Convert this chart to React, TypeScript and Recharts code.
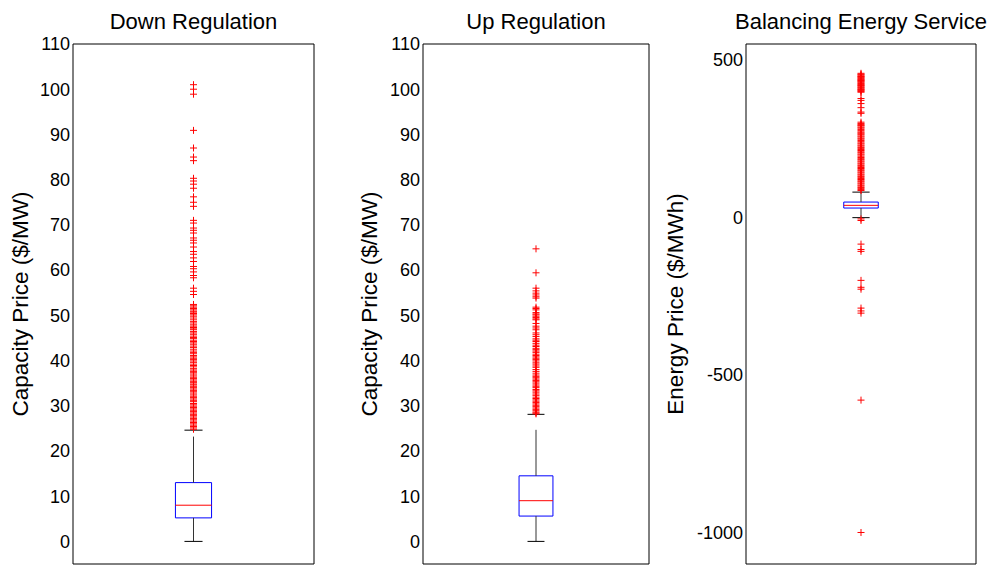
import { ComposedChart, XAxis, YAxis, Scatter, ReferenceArea, ReferenceLine, Label } from 'recharts';

// panel texts
const panelTitles = ['Down Regulation', 'Up Regulation', 'Balancing Energy Service'];
const yLabels = ['Capacity Price ($/MW)', 'Capacity Price ($/MW)', 'Energy Price ($/MWh)'];

// tick labels
const capacityTicks = [0, 10, 20, 30, 40, 50, 60, 70, 80, 90, 100, 110];
const energyTicks = [-1000, -500, 0, 500];

// box stats: lower whisker, q1, median, q3, upper whisker
const downBox = [0, 5.2, 8, 13, 24.6];
const upBox = [0, 5.6, 9, 14.5, 28.1];
const balancingBox = [-1, 29.5, 38, 48.5, 80];

// outliers
const downOutliers = [
  101, 100, 98.9, 90.9, 87, 85, 84.2, 80.3, 79.7, 79, 78.1, 76.2, 75, 74.1,
  71, 70.4, 69.3, 68.8, 68.2, 67.1, 66.6, 66, 65.1, 64.1, 63.5, 62.7, 61.9,
  60.8, 60.3, 59.6, 58.8, 58.3, 56, 55.3, 54.6, 52.4, 52.1, 51.8, 51.5, 51.2,
  50.9, 50.7, 50.4, 50.1, 49.8, 49.4, 49, 48.6, 48.3, 47.9, 47.6, 47.3, 47,
  46.8, 46.4, 46.1, 45.8, 45.4, 45.1, 44.9, 44.5, 44.2, 43.9, 43.6, 43.2,
  42.9, 42.5, 42.1, 41.8, 41.5, 41.1, 40.8, 40.5, 40.2, 39.9, 39.6, 39.2,
  38.9, 38.6, 38.2, 37.9, 37.6, 37.3, 37, 36.6, 36.3, 36, 35.7, 35.4, 35.1,
  34.8, 34.6, 34.3, 34, 33.7, 33.4, 33.1, 32.8, 32.4, 32.1, 31.8, 31.5, 31.2,
  30.9, 30.5, 30.2, 29.9, 29.6, 29.3, 29, 28.7, 28.4, 28.1, 27.8, 27.5, 27.2,
  26.9, 26.6, 26.3, 26, 25.7, 25.4, 25.1, 24.8,
];
const upOutliers = [
  64.7, 59.4, 56, 55.4, 54.9, 54.5, 54.1, 53.8, 51.8, 51.5, 51.2, 50.6, 50.3,
  50.1, 49.8, 49.5, 49.2, 49, 48.2, 47.6, 47.2, 46.8, 46.1, 45.7, 45.3, 44.8,
  44.5, 44.2, 43.8, 43.4, 43.1, 42.7, 42.4, 42.1, 41.8, 41.4, 41.1, 40.8,
  40.5, 40.2, 39.9, 39.5, 39.2, 38.8, 38.5, 38, 37.6, 37.2, 36.8, 36.5, 36.2,
  35.9, 35.6, 35.3, 35, 34.6, 34.3, 34, 33.6, 33.3, 33, 32.6, 32.3, 31.9,
  31.6, 31.3, 31, 30.7, 30.4, 30.1, 29.8, 29.5, 29.2, 28.9, 28.6, 28.4, 28.2,
];
const balancingOutliers = [
  457, 454, 452, 449, 447, 445, 443, 440, 438, 436, 434, 432, 430, 427, 425,
  422, 420, 418, 416, 413, 411, 408, 406, 404, 402, 399, 397,
  377, 371, 361, 348, 334, 330,
  302, 298, 295, 292, 290, 286, 283, 279, 275, 271, 268, 265, 262, 258, 255,
  251, 248, 244, 240, 236, 233, 229, 226, 222, 219, 215, 212, 208, 205, 201,
  198, 194, 190, 186, 183, 179, 176, 172, 169, 165, 162, 158, 155, 151, 148,
  144, 141, 137, 134, 130, 127, 123, 120, 116, 113, 109, 106, 102, 99, 95,
  92, 88, 85,
  -5, -10, -85, -102, -108, -200, -222, -228, -288, -297, -304, -580, -1000,
];

const FONT = '"Liberation Sans", Arial, sans-serif';
const X_CENTER = 1;
const BOX_HALF = 0.15;
const CAP_HALF = 0.075;

const renderPlus = (props: any) => {
  const { cx, cy } = props;
  if (cx == null || cy == null) return <g />;
  return (
    <path
      d={`M${cx - 3.5},${cy}H${cx + 3.5}M${cx},${cy - 3.5}V${cy + 3.5}`}
      stroke="#ff0000"
      strokeWidth={1}
      fill="none"
    />
  );
};

interface PanelProps {
  left: number;
  width: number;
  axisWidth: number;
  rightGap: number;
  labelOffset: number;
  title: string;
  yLabel: string;
  ticks: number[];
  domain: [number, number];
  stats: number[];
  outliers: number[];
}

const BoxPanel = ({ left, width, axisWidth, rightGap, labelOffset, title, yLabel, ticks, domain, stats, outliers }: PanelProps) => {
  const [lo, q1, med, q3, hi] = stats;
  const points = outliers.map(v => ({ x: X_CENTER, y: v }));
  const plotCenter = left + axisWidth + (width - axisWidth - rightGap) / 2;

  return (
    <>
      <div
        style={{
          position: 'absolute',
          left: plotCenter - 200,
          width: 400,
          top: 11,
          textAlign: 'center',
          fontSize: 22,
          lineHeight: '22px',
          color: '#000',
        }}
      >
        {title}
      </div>
      <div style={{ position: 'absolute', left, top: 0 }}>
        <ComposedChart
          width={width}
          height={567}
          data={points}
          margin={{ top: 44, right: rightGap, bottom: 3, left: 0 }}
          style={{ fontFamily: FONT }}
        >
          <XAxis xAxisId="x" type="number" dataKey="x" domain={[0, 2]} hide allowDataOverflow />
          <YAxis
            yAxisId="v"
            type="number"
            dataKey="y"
            domain={domain}
            ticks={ticks}
            interval={0}
            allowDataOverflow
            width={axisWidth}
            tickLine={false}
            tickSize={0}
            tickMargin={3}
            axisLine={false}
            tick={{ fill: '#000', fontSize: 18 }}
          >
            <Label
              value={yLabel}
              angle={-90}
              position="insideLeft"
              offset={labelOffset}
              style={{ textAnchor: 'middle', fontSize: 22.5, fill: '#000' }}
            />
          </YAxis>
          <YAxis
            yAxisId="inL"
            type="number"
            domain={domain}
            ticks={ticks}
            interval={0}
            allowDataOverflow
            mirror
            width={0}
            tick={false}
            tickSize={6}
            axisLine={false}
            tickLine={{ stroke: '#000' }}
          />
          <YAxis
            yAxisId="inR"
            orientation="right"
            type="number"
            domain={domain}
            ticks={ticks}
            interval={0}
            allowDataOverflow
            mirror
            width={0}
            tick={false}
            tickSize={6}
            axisLine={false}
            tickLine={{ stroke: '#000' }}
          />

          {/* plot frame */}
          <ReferenceArea
            xAxisId="x"
            yAxisId="v"
            x1={0}
            x2={2}
            y1={domain[0]}
            y2={domain[1]}
            fill="none"
            stroke="#000"
            strokeWidth={1}
            ifOverflow="visible"
          />

          {/* whiskers */}
          <ReferenceLine
            xAxisId="x"
            yAxisId="v"
            segment={[{ x: X_CENTER, y: q3 }, { x: X_CENTER, y: hi }]}
            stroke="#333"
            strokeDasharray="46 40"
            ifOverflow="visible"
          />
          <ReferenceLine
            xAxisId="x"
            yAxisId="v"
            segment={[{ x: X_CENTER, y: q1 }, { x: X_CENTER, y: lo }]}
            stroke="#333"
            ifOverflow="visible"
          />
          <ReferenceLine
            xAxisId="x"
            yAxisId="v"
            segment={[{ x: X_CENTER - CAP_HALF, y: hi }, { x: X_CENTER + CAP_HALF, y: hi }]}
            stroke="#000"
            ifOverflow="visible"
          />
          <ReferenceLine
            xAxisId="x"
            yAxisId="v"
            segment={[{ x: X_CENTER - CAP_HALF, y: lo }, { x: X_CENTER + CAP_HALF, y: lo }]}
            stroke="#000"
            ifOverflow="visible"
          />

          {/* box + median */}
          <ReferenceArea
            xAxisId="x"
            yAxisId="v"
            x1={X_CENTER - BOX_HALF}
            x2={X_CENTER + BOX_HALF}
            y1={q1}
            y2={q3}
            fill="none"
            stroke="#0000ff"
            strokeWidth={1}
            ifOverflow="visible"
          />
          <ReferenceLine
            xAxisId="x"
            yAxisId="v"
            segment={[{ x: X_CENTER - BOX_HALF, y: med }, { x: X_CENTER + BOX_HALF, y: med }]}
            stroke="#ff0000"
            ifOverflow="visible"
          />

          {/* outliers */}
          <Scatter
            xAxisId="x"
            yAxisId="v"
            data={points}
            shape={renderPlus}
            isAnimationActive={false}
          />
        </ComposedChart>
      </div>
    </>
  );
};

export default function App() {
  return (
    <div
      style={{
        position: 'absolute',
        left: 0,
        top: 0,
        width: 992,
        height: 567,
        background: '#fff',
        fontFamily: FONT,
      }}
    >
      <BoxPanel
        left={0}
        width={330}
        axisWidth={73}
        rightGap={16}
        labelOffset={20}
        title={panelTitles[0]}
        yLabel={yLabels[0]}
        ticks={capacityTicks}
        domain={[-5, 110]}
        stats={downBox}
        outliers={downOutliers}
      />
      <BoxPanel
        left={330}
        width={330}
        axisWidth={93}
        rightGap={11}
        labelOffset={39}
        title={panelTitles[1]}
        yLabel={yLabels[1]}
        ticks={capacityTicks}
        domain={[-5, 110]}
        stats={upBox}
        outliers={upOutliers}
      />
      <BoxPanel
        left={660}
        width={332}
        axisWidth={86}
        rightGap={16}
        labelOffset={15}
        title={panelTitles[2]}
        yLabel={yLabels[2]}
        ticks={energyTicks}
        domain={[-1100, 550]}
        stats={balancingBox}
        outliers={balancingOutliers}
      />
    </div>
  );
}
